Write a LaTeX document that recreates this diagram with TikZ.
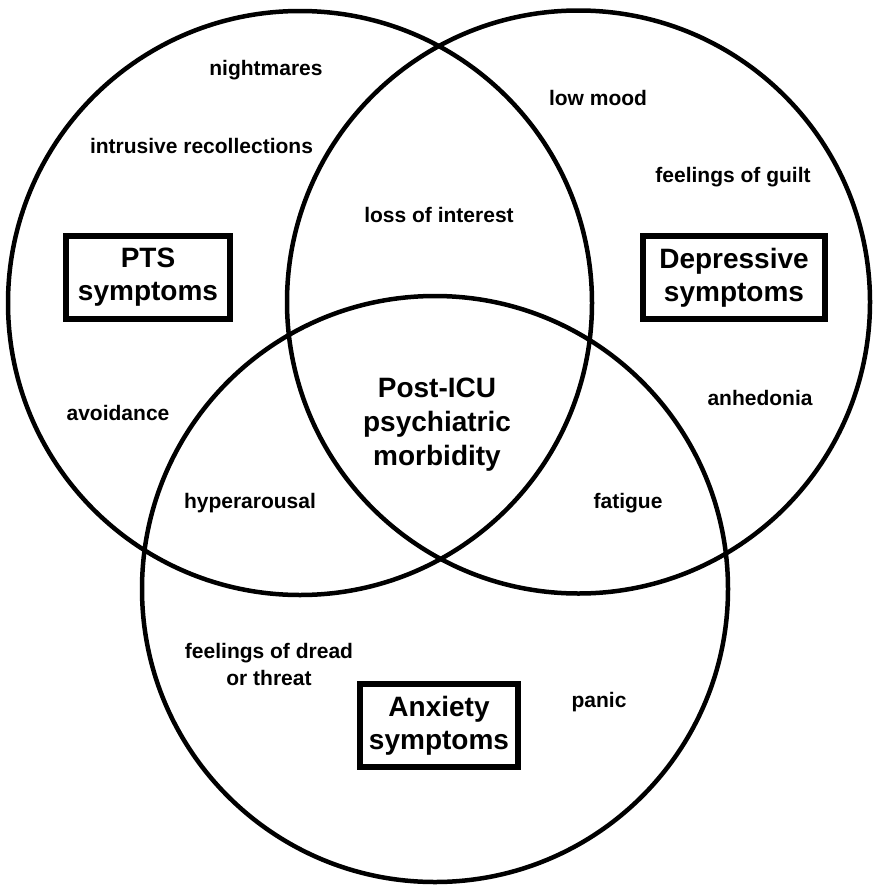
\documentclass[tikz,border=0pt]{standalone}
\usepackage{fontspec}
\setmainfont{Liberation Sans}
\begin{document}
\begin{tikzpicture}[x=1pt,y=-1pt,
  ring/.style={draw=black,line width=4.5pt},
  lbl/.style={font=\fontsize{21}{25}\selectfont\bfseries,inner sep=0pt,anchor=base,align=center},
  bigtxt/.style={font=\fontsize{28}{34}\selectfont\bfseries,inner sep=0pt,align=center},
  catbox/.style={draw=black,line width=6pt,font=\fontsize{28}{33}\selectfont\bfseries,align=center,inner sep=0pt,minimum height=83pt}]
\useasboundingbox (0,0) rectangle (873,886);
% circles
\draw[ring] (300,303) circle[radius=292pt];
\draw[ring] (578.5,302) circle[radius=291.5pt];
\draw[ring] (435,589) circle[radius=293pt];
% category boxes
\node[catbox,minimum width=164pt] (pts) at (148,277.5) {PTS\\symptoms};
\node[catbox,minimum width=182pt] (dep) at (734,277.5) {Depressive\\symptoms};
\node[catbox,minimum width=158pt] (anx) at (439,725.5) {Anxiety\\symptoms};
% centre
\node[bigtxt,anchor=base] (core) at (437,465) {Post-ICU\\psychiatric\\morbidity};
% symptom labels
\node[lbl] (night) at (266,75) {nightmares};
\node[lbl] (intr) at (201.5,153) {intrusive recollections};
\node[lbl] (loss) at (439,222) {loss of interest};
\node[lbl] (low) at (598,105) {low mood};
\node[lbl] (guilt) at (733,182) {feelings of guilt};
\node[lbl] (avoid) at (118,420) {avoidance};
\node[lbl] (hyper) at (250,508) {hyperarousal};
\node[lbl] (anhed) at (760,405) {anhedonia};
\node[lbl] (fatig) at (628,508) {fatigue};
\node[lbl,font=\fontsize{21}{27}\selectfont\bfseries] (dread) at (269,685) {feelings of dread\\or threat};
\node[lbl] (panic) at (599,707) {panic};
\end{tikzpicture}
\end{document}
